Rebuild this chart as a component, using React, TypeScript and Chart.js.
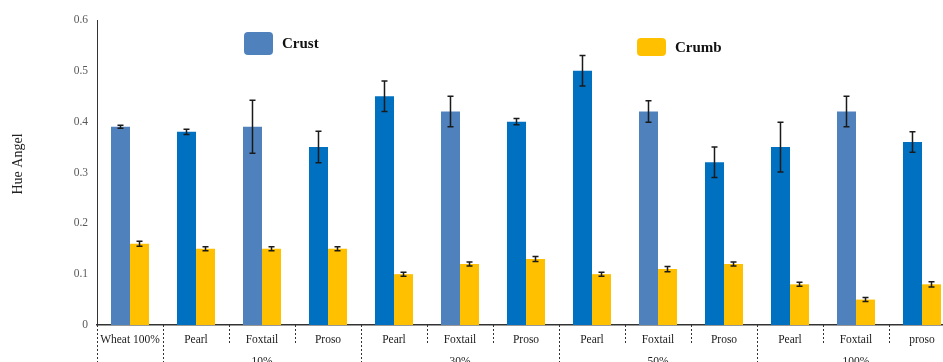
import React, { useEffect, useRef } from 'react';
import { Chart, registerables } from 'chart.js';

Chart.register(...registerables);

const categories = ['Wheat 100%', 'Pearl', 'Foxtail', 'Proso', 'Pearl', 'Foxtail', 'Proso', 'Pearl', 'Foxtail', 'Proso', 'Pearl', 'Foxtail', 'proso'];
const crustValues = [0.39, 0.38, 0.39, 0.35, 0.45, 0.42, 0.40, 0.50, 0.42, 0.32, 0.35, 0.42, 0.36];
const crustErrors = [0.003, 0.005, 0.052, 0.031, 0.03, 0.03, 0.006, 0.03, 0.021, 0.03, 0.049, 0.03, 0.02];
const crumbValues = [0.16, 0.15, 0.15, 0.15, 0.10, 0.12, 0.13, 0.10, 0.11, 0.12, 0.08, 0.05, 0.08];
const crumbErrors = [0.005, 0.004, 0.004, 0.004, 0.004, 0.004, 0.005, 0.004, 0.005, 0.004, 0.004, 0.004, 0.005];
const crustShade = ['light', 'dark', 'light', 'dark', 'dark', 'light', 'dark', 'dark', 'light', 'dark', 'dark', 'light', 'dark'];
const groupLabels = ['10%', '30%', '50%', '100%'];
const groupFirst = [1, 4, 7, 10];
const groupLast = [3, 6, 9, 12];
const seriesNames = ['Crust', 'Crumb'];

const LIGHT_BLUE = '#4F81BD';
const DARK_BLUE = '#0070C0';
const GOLD = '#FFC000';
const SERIF = '"Liberation Serif", "Times New Roman", serif';

const overlayPlugin = {
  id: 'overlay',
  afterDatasetsDraw(chart: any) {
    const ctx = chart.ctx;
    const y = chart.scales.y;
    const errs = [crustErrors, crumbErrors];
    const vals = [crustValues, crumbValues];
    ctx.save();
    ctx.strokeStyle = '#1a1a1a';
    ctx.lineWidth = 1.5;
    [0, 1].forEach((di) => {
      const meta = chart.getDatasetMeta(di);
      meta.data.forEach((el: any, i: number) => {
        const x = el.x;
        const top = y.getPixelForValue(vals[di][i] + errs[di][i]);
        const bot = y.getPixelForValue(vals[di][i] - errs[di][i]);
        ctx.beginPath();
        ctx.moveTo(x, top);
        ctx.lineTo(x, bot);
        ctx.moveTo(x - 3, top);
        ctx.lineTo(x + 3, top);
        ctx.moveTo(x - 3, bot);
        ctx.lineTo(x + 3, bot);
        ctx.stroke();
      });
    });
    ctx.restore();
  },
  afterDraw(chart: any) {
    const ctx = chart.ctx;
    const area = chart.chartArea;
    const xs = chart.scales.x;
    const H = chart.height;
    const n = categories.length;
    const step = (area.right - area.left) / n;
    const edge = (k: number) => area.left + k * step;
    ctx.save();
    // separators
    ctx.strokeStyle = '#333';
    ctx.lineWidth = 1;
    ctx.setLineDash([2, 2]);
    const groupEdges = new Set<number>([0, 1]);
    groupLast.forEach((g) => groupEdges.add(g + 1));
    for (let k = 0; k <= n; k++) {
      const x = Math.round(edge(k)) + 0.5;
      ctx.beginPath();
      ctx.moveTo(x, area.bottom);
      ctx.lineTo(x, groupEdges.has(k) ? H : area.bottom + 20);
      ctx.stroke();
    }
    ctx.setLineDash([]);
    // category labels
    ctx.fillStyle = '#1a1a1a';
    ctx.font = `11.5px ${SERIF}`;
    ctx.textAlign = 'center';
    ctx.textBaseline = 'middle';
    categories.forEach((c, i) => {
      ctx.fillText(c, xs.getPixelForValue(i), area.bottom + 15);
    });
    // group labels
    ctx.textBaseline = 'alphabetic';
    groupLabels.forEach((g, i) => {
      const cx = (edge(groupFirst[i]) + edge(groupLast[i] + 1)) / 2;
      ctx.fillText(g, cx, area.bottom + 40);
    });
    // y title
    ctx.save();
    ctx.translate(18, 164);
    ctx.rotate(-Math.PI / 2);
    ctx.font = `14px ${SERIF}`;
    ctx.textBaseline = 'middle';
    ctx.fillStyle = '#222';
    ctx.fillText('Hue Angel', 0, 0);
    ctx.restore();
    // legend
    const legend = [
      { name: seriesNames[0], color: LIGHT_BLUE, x: 244, y: 32, w: 29, h: 23 },
      { name: seriesNames[1], color: GOLD, x: 637, y: 38, w: 29, h: 18 },
    ];
    legend.forEach((l) => {
      ctx.fillStyle = l.color;
      ctx.beginPath();
      (ctx as any).roundRect(l.x, l.y, l.w, l.h, 4);
      ctx.fill();
      ctx.fillStyle = '#111';
      ctx.font = `bold 15px ${SERIF}`;
      ctx.textAlign = 'left';
      ctx.textBaseline = 'middle';
      ctx.fillText(l.name, l.x + l.w + 9, l.y + l.h / 2 + 1);
    });
    ctx.restore();
  },
};

export default function App() {
  const ref = useRef<HTMLCanvasElement | null>(null);
  useEffect(() => {
    if (!ref.current) return;
    const chart = new Chart(ref.current, {
      type: 'bar',
      data: {
        labels: categories,
        datasets: [
          {
            label: seriesNames[0],
            data: crustValues,
            backgroundColor: crustShade.map((s) => (s === 'light' ? LIGHT_BLUE : DARK_BLUE)),
            categoryPercentage: 0.576,
            barPercentage: 1,
          },
          {
            label: seriesNames[1],
            data: crumbValues,
            backgroundColor: GOLD,
            categoryPercentage: 0.576,
            barPercentage: 1,
          },
        ],
      },
      options: {
        animation: false,
        responsive: false,
        maintainAspectRatio: false,
        layout: { padding: { top: 20, right: 5, left: 0, bottom: 0 } },
        plugins: { legend: { display: false }, tooltip: { enabled: false } },
        scales: {
          x: {
            grid: { display: false, drawTicks: false },
            ticks: { display: false },
            border: { display: true, color: '#333', width: 1.5 },
            afterFit: (s: any) => {
              s.height = 37;
            },
          },
          y: {
            min: 0,
            max: 0.6,
            grid: { display: false, drawTicks: false },
            border: { display: true, color: '#333', width: 1, dash: [2, 2] },
            ticks: {
              stepSize: 0.1,
              padding: 9,
              color: '#595959',
              font: { family: SERIF, size: 11.5 },
              callback: (v: any) => (v === 0 ? '0' : Number(v).toFixed(1)),
            },
            afterFit: (s: any) => {
              s.width = 97;
            },
          },
        },
      },
      plugins: [overlayPlugin],
    });
    return () => chart.destroy();
  }, []);
  return (
    <div style={{ position: 'fixed', left: 0, top: 0, width: 943, height: 362, overflow: 'hidden', background: '#fff' }}>
      <canvas ref={ref} width={960} height={362} style={{ width: 960, height: 362, display: 'block' }} />
    </div>
  );
}
